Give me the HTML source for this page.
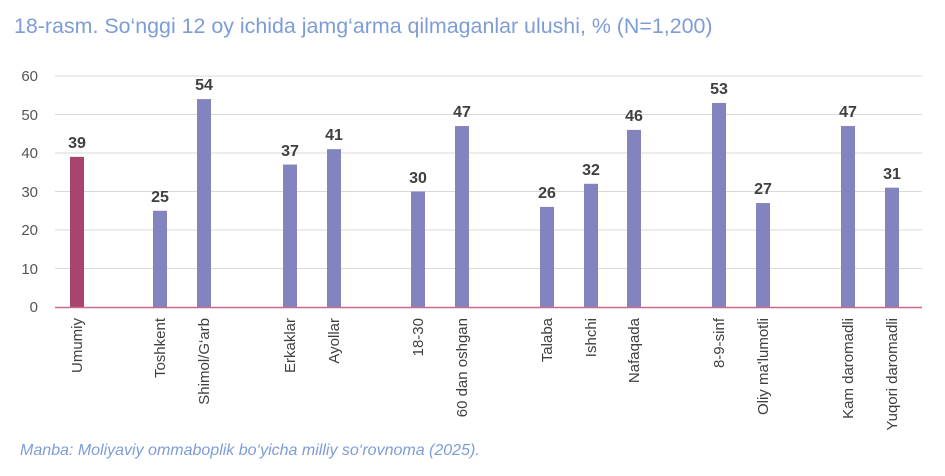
<!DOCTYPE html>
<html><head><meta charset="utf-8"><style>
body{margin:0;background:#fff;width:945px;height:476px;overflow:hidden}
svg{display:block;font-family:"Liberation Sans","DejaVu Sans",sans-serif}
</style></head><body>
<svg width="945" height="476" viewBox="0 0 945 476">
<text x="14" y="33" font-size="21.4" fill="#7d9cd8">18-rasm. So‘nggi 12 oy ichida jamg‘arma qilmaganlar ulushi, % (N=1,200)</text>
<g stroke="#d9d9d9" stroke-width="1">
<line x1="55" x2="922" y1="76" y2="76"/><line x1="55" x2="922" y1="114.5" y2="114.5"/>
<line x1="55" x2="922" y1="153" y2="153"/><line x1="55" x2="922" y1="191.5" y2="191.5"/>
<line x1="55" x2="922" y1="230" y2="230"/><line x1="55" x2="922" y1="268.5" y2="268.5"/>
</g>
<g font-size="15" fill="#555" text-anchor="end">
<text x="38" y="81">60</text><text x="38" y="120">50</text><text x="38" y="158">40</text>
<text x="38" y="197">30</text><text x="38" y="235">20</text><text x="38" y="274">10</text><text x="38" y="312">0</text>
</g>
<g fill="#8383c0">
<rect x="70" y="156.85" width="14" height="150.15" fill="#a8456e"/>
<rect x="153" y="210.75" width="14" height="96.25"/>
<rect x="197" y="99.1" width="14" height="207.9"/>
<rect x="283" y="164.55" width="14" height="142.45"/>
<rect x="327" y="149.15" width="14" height="157.85"/>
<rect x="411" y="191.5" width="14" height="115.5"/>
<rect x="455" y="126.05" width="14" height="180.95"/>
<rect x="540" y="206.9" width="14" height="100.1"/>
<rect x="584" y="183.8" width="14" height="123.2"/>
<rect x="627" y="129.9" width="14" height="177.1"/>
<rect x="712" y="102.95" width="14" height="204.05"/>
<rect x="756" y="203.05" width="14" height="103.95"/>
<rect x="841" y="126.05" width="14" height="180.95"/>
<rect x="885" y="187.65" width="14" height="119.35"/>
</g>
<g font-size="16" font-weight="bold" fill="#404040" text-anchor="middle">
<text x="77" y="148">39</text><text x="160" y="202">25</text><text x="204" y="90">54</text>
<text x="290" y="156">37</text><text x="334" y="140">41</text><text x="418" y="183">30</text>
<text x="462" y="117">47</text><text x="547" y="198">26</text><text x="591" y="175">32</text>
<text x="634" y="121">46</text><text x="719" y="94">53</text><text x="763" y="194">27</text>
<text x="848" y="117">47</text><text x="892" y="179">31</text>
</g>
<g font-size="15" fill="#404040" text-anchor="end">
<text transform="translate(82,318) rotate(-90)">Umumiy</text>
<text transform="translate(165,318) rotate(-90)">Toshkent</text>
<text transform="translate(209,318) rotate(-90)">Shimol/G‘arb</text>
<text transform="translate(295,318) rotate(-90)">Erkaklar</text>
<text transform="translate(339,318) rotate(-90)">Ayollar</text>
<text transform="translate(423,318) rotate(-90)">18-30</text>
<text transform="translate(467,318) rotate(-90)">60 dan oshgan</text>
<text transform="translate(552,318) rotate(-90)">Talaba</text>
<text transform="translate(596,318) rotate(-90)">Ishchi</text>
<text transform="translate(639,318) rotate(-90)">Nafaqada</text>
<text transform="translate(724,318) rotate(-90)">8-9-sinf</text>
<text transform="translate(768,318) rotate(-90)">Oliy ma'lumotli</text>
<text transform="translate(853,318) rotate(-90)">Kam daromadli</text>
<text transform="translate(897,318) rotate(-90)">Yuqori daromadli</text>
</g>
<line x1="55" x2="922" y1="307.5" y2="307.5" stroke="#c86a90" stroke-width="1.5"/>
<text x="20" y="455" font-size="16" font-style="italic" fill="#7d9cd8">Manba: Moliyaviy ommaboplik bo‘yicha milliy so‘rovnoma (2025).</text>
</svg>
</body></html>
